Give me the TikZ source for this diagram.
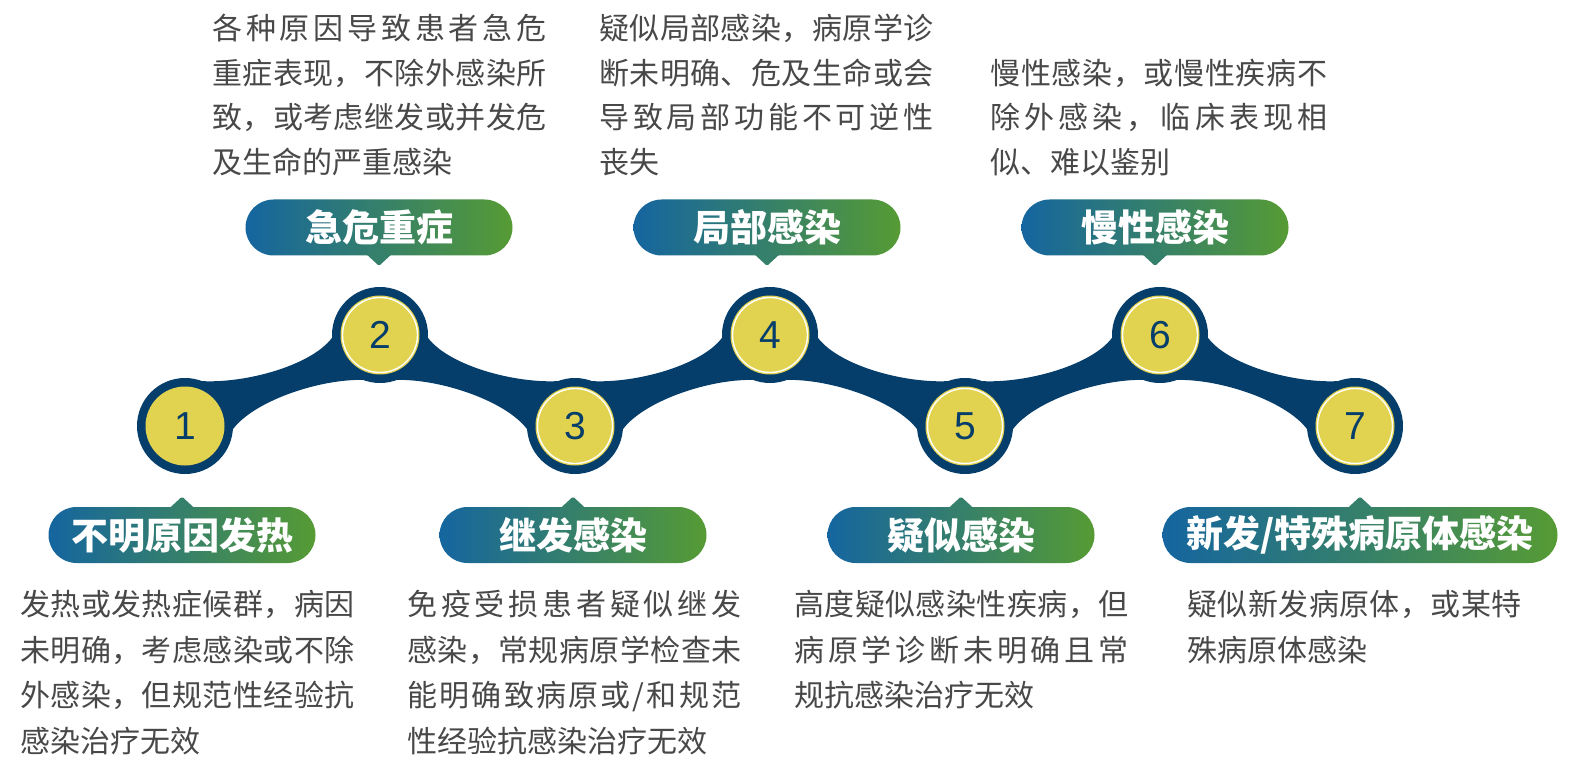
\documentclass[tikz,border=0pt]{standalone}
\usepackage{fontspec}
\setmainfont{Noto Sans CJK SC}
\newfontfamily\numfont{Liberation Sans}
\usetikzlibrary{shapes.misc}
\definecolor{navy}{RGB}{6,62,107}
\definecolor{ylw}{RGB}{225,211,80}
\definecolor{pillL}{RGB}{21,101,160}
\definecolor{pillR}{RGB}{86,155,52}
\colorlet{pillM}{pillL!50!pillR}
\definecolor{txt}{RGB}{72,72,72}
\def\jlw{167pt}
\def\jlend{\jlend}
\def\jl#1{\hbox to \jlw{\jla#1\jlend}}
\def\jla#1{#1\futurelet\jlnext\jlb}
\def\jlb{\ifx\jlnext\jlend\expandafter\jlstop\else\hfill\expandafter\jla\fi}
\def\jlstop#1{}
\tikzset{
  desc/.style={anchor=base west, inner sep=0pt, text=txt, font=\fontsize{15pt}{18pt}\selectfont},
  pill/.style={rounded rectangle, minimum width=133.5pt, minimum height=28pt, inner sep=0pt,
    left color=pillL, right color=pillR, draw=none, text=white, font=\fontsize{18.5pt}{20pt}\selectfont\bfseries},
  blob/.style={circle, fill=navy, minimum size=48pt, inner sep=0pt},
  dot/.style={circle, fill=ylw, minimum size=39.5pt, inner sep=0pt, text=navy, font=\numfont\fontsize{19.5pt}{20pt}\selectfont},
  ring/.style={draw=white, line width=0.7pt},
  ptr/.style={fill=pillM, rounded corners=0.8pt},
  band/.style={fill=navy}
}
\begin{document}
\begin{tikzpicture}[x=0.5pt,y=-0.5pt]
\useasboundingbox (0,0) rectangle (1574,770);
% band segments
\foreach \s in {185,575,965}{
  \begin{scope}[shift={(\s,0)}]
    \fill[band] (0,426) -- (15,381) .. controls (60,384) and (130,365) .. (149,335) -- (195,335)
      -- (181,380) .. controls (135,378) and (65,402) .. (46,432) -- cycle;
  \end{scope}
}
\foreach \s in {380,770,1160}{
  \begin{scope}[shift={(\s,0)}]
    \fill[band] (0,335) -- (46,335) .. controls (65,365) and (135,384) .. (180,381) -- (195,426)
      -- (149,432) .. controls (130,402) and (60,378) .. (14,380) -- cycle;
  \end{scope}
}
% blobs and dots
\foreach \i/\x/\y in {1/185/426,2/380/335,3/575/426,4/770/335,5/965/426,6/1160/335,7/1355/426}{
  \node[blob] (b\i) at (\x,\y) {};
  \node[dot] (d\i) at (\x,\y) {\i};
}
\foreach \i in {2,...,7}{
  \draw[ring] (d\i.center) circle[radius=37.5];
}
% pills
\node[pill] (p1) at (182,535) {不明原因发热};
\node[pill] (p2) at (379,227.5) {急危重症};
\node[pill] (p3) at (573,535) {继发感染};
\node[pill] (p4) at (767,227.5) {局部感染};
\node[pill] (p5) at (961,535) {疑似感染};
\node[pill] (p6) at (1155,227.5) {慢性感染};
\node[pill, minimum width=197.5pt] (p7) at (1360,535) {新发/特殊病原体感染};
\foreach \p in {p1,p3,p5,p7}{
  \fill[ptr] ([xshift=-6.5pt,yshift=-1pt]\p.north) -- ([yshift=5pt]\p.north) -- ([xshift=6.5pt,yshift=-1pt]\p.north) -- cycle;
}
\foreach \p in {p2,p4,p6}{
  \fill[ptr] ([xshift=-6.5pt,yshift=1pt]\p.south) -- ([yshift=-5pt]\p.south) -- ([xshift=6.5pt,yshift=1pt]\p.south) -- cycle;
}
% top texts
\node[desc] (t2a) at (212,40) {\jl{各种原因导致患者急危}};
\node[desc] (t2b) at (212,84.5) {\jl{重症表现，不除外感染所}};
\node[desc] (t2c) at (212,129) {\jl{致，或考虑继发或并发危}};
\node[desc] (t2d) at (212,173.5) {及生命的严重感染};
\node[desc] (t4a) at (599,40) {\jl{疑似局部感染，病原学诊}};
\node[desc] (t4b) at (599,84.5) {\jl{断未明确、危及生命或会}};
\node[desc] (t4c) at (599,129) {\jl{导致局部功能不可逆性}};
\node[desc] (t4d) at (599,173.5) {丧失};
\node[desc] (t6a) at (990,84.5) {\def\jlw{168.5pt}\jl{慢性感染，或慢性疾病不}};
\node[desc] (t6b) at (990,129) {\def\jlw{168.5pt}\jl{除外感染，临床表现相}};
\node[desc] (t6c) at (990,173.5) {似、难以鉴别};
% bottom texts
\node[desc] (t1a) at (20,615.5) {\jl{发热或发热症候群，病因}};
\node[desc] (t1b) at (20,661) {\jl{未明确，考虑感染或不除}};
\node[desc] (t1c) at (20,706.5) {\jl{外感染，但规范性经验抗}};
\node[desc] (t1d) at (20,752) {感染治疗无效};
\node[desc] (t3a) at (407,615.5) {\jl{免疫受损患者疑似继发}};
\node[desc] (t3b) at (407,661) {\jl{感染，常规病原学检查未}};
\node[desc] (t3c) at (407,706.5) {\jl{能明确致病原或/和规范}};
\node[desc] (t3d) at (407,752) {性经验抗感染治疗无效};
\node[desc] (t5a) at (794,615.5) {\jl{高度疑似感染性疾病，但}};
\node[desc] (t5b) at (794,661) {\jl{病原学诊断未明确且常}};
\node[desc] (t5c) at (794,706.5) {规抗感染治疗无效};
\node[desc] (t7a) at (1187,615.5) {\jl{疑似新发病原体，或某特}};
\node[desc] (t7b) at (1187,661) {殊病原体感染};
\end{tikzpicture}
\end{document}
